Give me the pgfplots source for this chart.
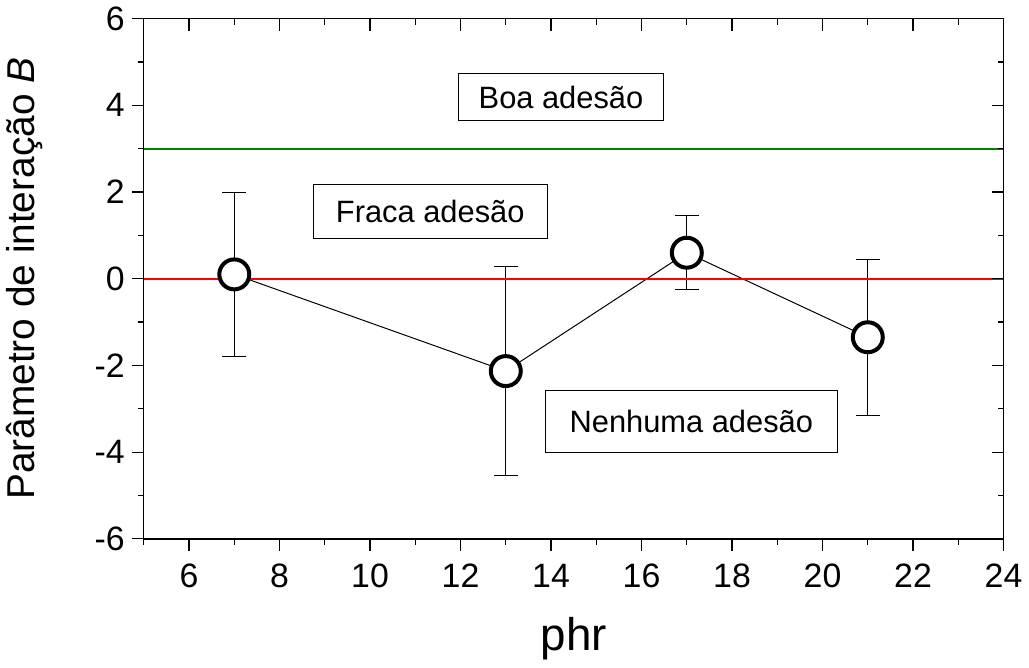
\documentclass[border=0pt]{standalone}
\usepackage{pgfplots}
\pgfplotsset{compat=1.18}
\usepackage{fontspec}
\setmainfont{Liberation Sans}
\definecolor{linegreen}{RGB}{0,128,0}
\begin{document}
\begin{tikzpicture}
\pgfplotsset{
  common/.style={
    scale only axis, width=430.5bp, height=260.5bp,
    xmin=5, xmax=24, ymin=-6, ymax=6,
    xtick={6,8,...,24}, ytick={-6,-4,...,6},
    minor xtick={5,7,...,23}, minor ytick={-5,-3,...,5},
    major tick length=6bp, minor tick length=3bp,
    every tick/.style={black, line width=0.6pt},
    axis line style={line width=0.7pt},
    /pgf/number format/assume math mode=true,
    tick label style={font=\fontsize{17}{20}\selectfont},
  }
}
\begin{axis}[common,
  xtick pos=left, ytick pos=left, tick align=outside,
  xticklabel style={anchor=base, yshift=-18.5bp},
  xlabel={phr}, ylabel={Parâmetro de interação \textit{B}},
  xlabel style={font=\fontsize{23}{26}\selectfont, yshift=-8bp},
  ylabel style={font=\fontsize{19.5}{22}\selectfont, yshift=19bp},
  clip=false]
\addplot[black, line width=0.5pt, mark=*, mark size=7.5bp,
  mark options={line width=2bp, fill=white, draw=black, solid},
  error bars/.cd, y dir=both, y explicit,
  error bar style={line width=0.5pt, black},
  error mark options={rotate=90, mark size=6bp, line width=0.5pt}]
  coordinates {
  (7,0.10) +- (0,1.90)
  (13,-2.13) +- (0,2.42)
  (17,0.60) +- (0,0.85)
  (21,-1.35) +- (0,1.80)
};
\addplot[red, line width=1bp] coordinates {(5,0) (24,0)};
\addplot[linegreen, line width=1bp] coordinates {(5,3) (24,3)};
\node[draw, line width=0.5pt, fill=white, minimum width=102.5bp, minimum height=23.5bp,
  font=\fontsize{15.5}{18}\selectfont] at (axis cs:14.22,4.19) {Boa adesão};
\node[draw, line width=0.5pt, fill=white, minimum width=117bp, minimum height=27bp,
  font=\fontsize{15.5}{18}\selectfont] at (axis cs:11.33,1.55) {Fraca adesão};
\node[draw, line width=0.5pt, fill=white, minimum width=146.5bp, minimum height=31bp,
  font=\fontsize{15.5}{18}\selectfont] at (axis cs:17.1,-3.3) {Nenhuma adesão};
\end{axis}
\begin{axis}[common,
  xtick pos=right, ytick pos=right, tick align=inside,
  xticklabels={}, yticklabels={}]
\end{axis}
\end{tikzpicture}
\end{document}
